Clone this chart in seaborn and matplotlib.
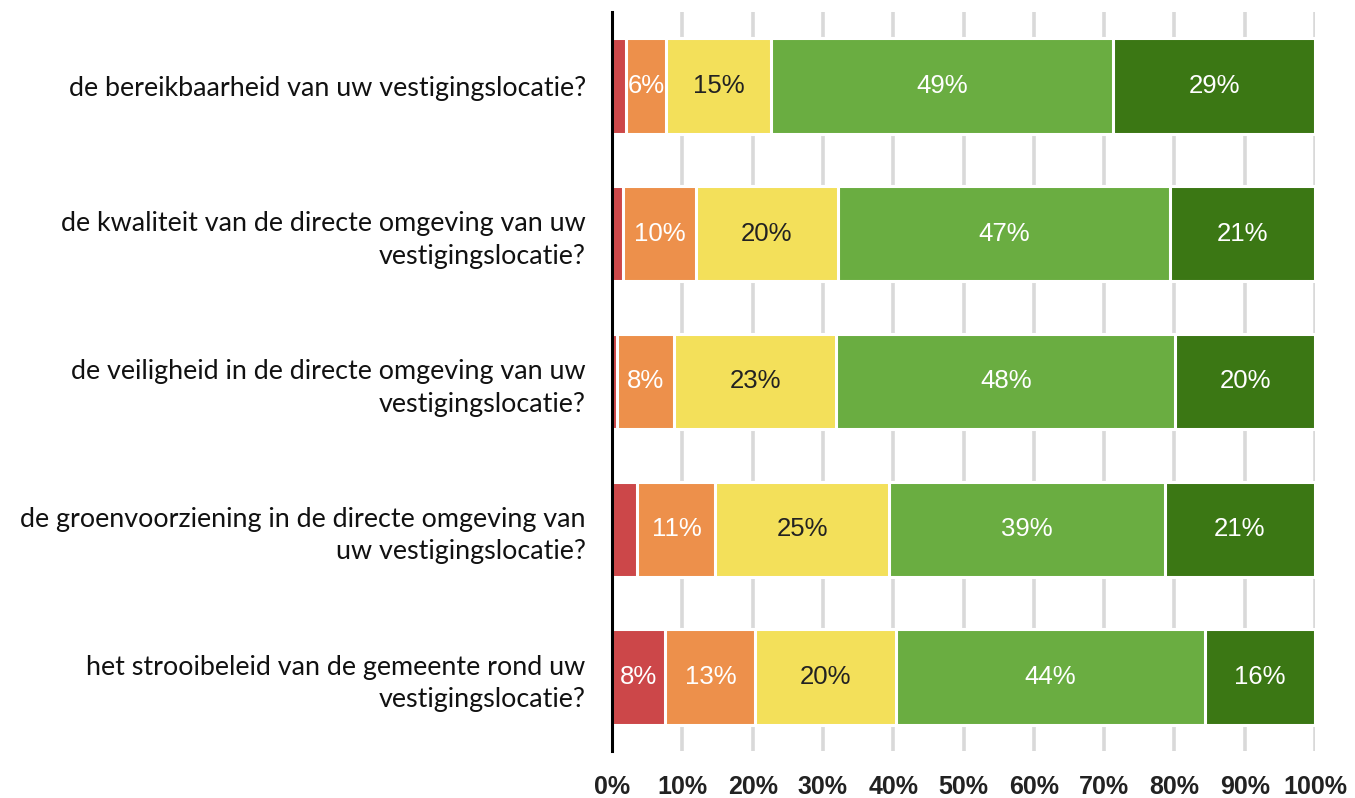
import matplotlib
matplotlib.use("Agg")
import matplotlib.pyplot as plt
import numpy as np
import pandas as pd
import seaborn as sns

questions = [
    "de bereikbaarheid van uw vestigingslocatie?",
    "de kwaliteit van de directe omgeving van uw\nvestigingslocatie?",
    "de veiligheid in de directe omgeving van uw\nvestigingslocatie?",
    "de groenvoorziening in de directe omgeving van\nuw vestigingslocatie?",
    "het strooibeleid van de gemeente rond uw\nvestigingslocatie?",
]
answers = ["zeer ontevreden", "ontevreden", "neutraal", "tevreden", "zeer tevreden"]

zeer_ontevreden = [2.0, 1.6, 0.7, 3.6, 7.6]
ontevreden = [5.7, 10.3, 8.1, 11.1, 12.8]
neutraal = [14.9, 20.2, 23.1, 24.7, 20.0]
tevreden = [48.7, 47.3, 48.2, 39.2, 43.9]
zeer_tevreden = [28.7, 20.6, 19.9, 21.4, 15.7]

colors = ["#cc4749", "#ed904b", "#f3e05a", "#6aad41", "#3b7714"]
text_colors = ["white", "white", "#222222", "white", "white"]
x_ticks = list(range(0, 101, 10))

sns.set_theme(style="white")
plt.rcParams["font.family"] = ["Liberation Sans", "DejaVu Sans"]

series = [zeer_ontevreden, ontevreden, neutraal, tevreden, zeer_tevreden]
values = np.array(series)
cum = values.cumsum(axis=0)

fig, ax = plt.subplots(figsize=(13.55, 7.98), dpi=100)
fig.subplots_adjust(left=0.4517, right=0.9705, top=0.985, bottom=0.059)

# grid behind bars
for t in x_ticks[1:]:
    ax.axvline(t, color="#d9d9d9", lw=2.6, zorder=0)

# stacked bars: draw cumulative layers from widest to narrowest
for i in range(len(answers) - 1, -1, -1):
    df = pd.DataFrame({"vraag": questions, "waarde": cum[i]})
    sns.barplot(
        data=df, x="waarde", y="vraag", orient="h", order=questions,
        color=colors[i], saturation=1, width=0.645,
        edgecolor="white", linewidth=2.2, ax=ax, zorder=2,
    )

for i in range(len(answers)):
    for j in range(len(questions)):
        v = values[i, j]
        if v < 5:
            continue
        ax.text(cum[i, j] - v / 2, j, f"{v:.0f}%", ha="center", va="center",
                color=text_colors[i], fontsize=18.5, zorder=3)

ax.set_xlim(0, 100)
ax.set_ylim(len(questions) - 0.5, -0.5)
ax.set_xticks(x_ticks)
ax.set_xticklabels([f"{t}%" for t in x_ticks], fontsize=18, fontweight="bold",
                   color="#222222")
ax.tick_params(axis="x", length=0, pad=17)
ax.tick_params(axis="y", length=0, pad=19)
for lbl in ax.get_yticklabels():
    lbl.set_family(["Lato", "DejaVu Sans"])
    lbl.set_fontsize(19.4)
    lbl.set_linespacing(1.38)
    lbl.set_color("#111111")
ax.set_xlabel("")
ax.set_ylabel("")
for s in ["top", "right", "bottom"]:
    ax.spines[s].set_visible(False)
ax.spines["left"].set_color("black")
ax.spines["left"].set_linewidth(2.2)
ax.spines["left"].set_zorder(5)

fig.savefig("out.png", dpi=100)
